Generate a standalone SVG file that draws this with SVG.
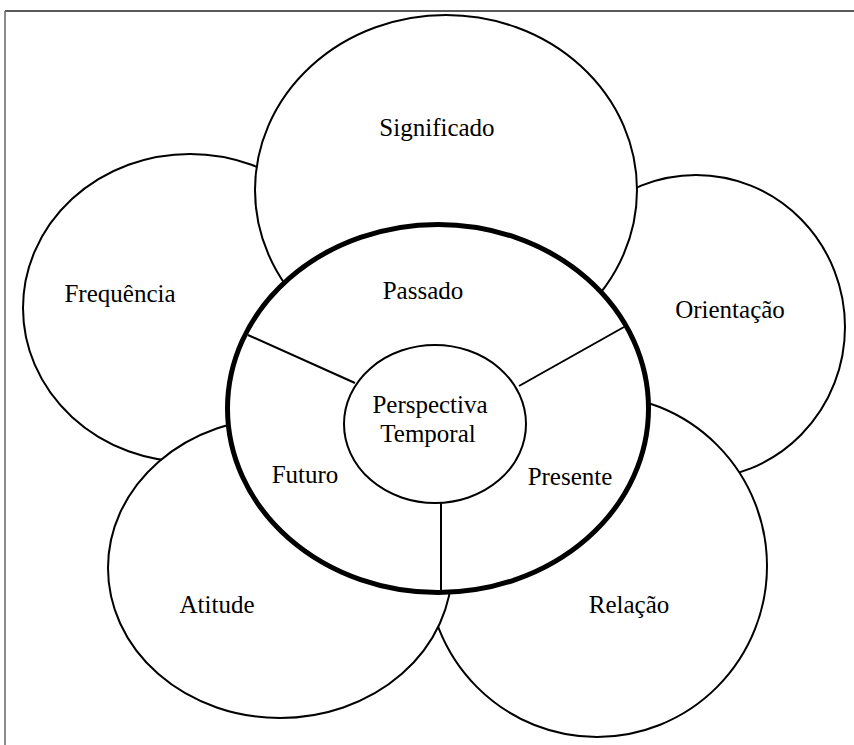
<svg xmlns="http://www.w3.org/2000/svg" width="854" height="745" viewBox="0 0 854 745">
<style>
.c{fill:#fff;stroke:#000;stroke-width:2}
.core{fill:#fff;stroke:#000;stroke-width:5}
.inner{fill:#fff;stroke:#000;stroke-width:2}
.l{stroke:#000;stroke-width:2;fill:none}
text{font-family:"Liberation Serif","Times New Roman",serif;font-size:25px;fill:#000;text-anchor:middle}
</style>
<rect x="0" y="0" width="854" height="745" fill="#fff"/>
<g id="frame">
<line x1="5" y1="11" x2="854" y2="11" stroke="#222" stroke-width="1.5"/>
<line x1="5" y1="11" x2="5" y2="745" stroke="#666" stroke-width="1.5"/>
</g>
<g id="frequencia">
<ellipse class="c" cx="190" cy="308" rx="167" ry="154"/>
<text x="120" y="302">Frequência</text>
</g>
<g id="orientacao">
<ellipse class="c" cx="696" cy="327" rx="149" ry="152"/>
<text x="730" y="318">Orientação</text>
</g>
<g id="significado">
<ellipse class="c" cx="446" cy="190" rx="191" ry="175"/>
<text x="437" y="136">Significado</text>
</g>
<g id="relacao">
<ellipse class="c" cx="597" cy="566" rx="170" ry="171"/>
<text x="629" y="613">Relação</text>
</g>
<g id="atitude">
<ellipse class="c" cx="280" cy="568" rx="172" ry="150"/>
<text x="217" y="613">Atitude</text>
</g>
<g id="tempo">
<ellipse class="core" cx="438" cy="408.5" rx="210.5" ry="184"/>
<text x="423" y="299">Passado</text>
<text x="305" y="483">Futuro</text>
<text x="570" y="485">Presente</text>
</g>
<g id="connectors">
<line class="l" x1="248" y1="335" x2="355" y2="383"/>
<line class="l" x1="624" y1="327" x2="519" y2="386"/>
<line class="l" x1="441" y1="503" x2="441" y2="592"/>
</g>
<g id="perspectiva">
<ellipse class="inner" cx="435" cy="424" rx="91" ry="79"/>
<text x="430" y="413">Perspectiva</text>
<text x="428" y="442">Temporal</text>
</g>
</svg>
